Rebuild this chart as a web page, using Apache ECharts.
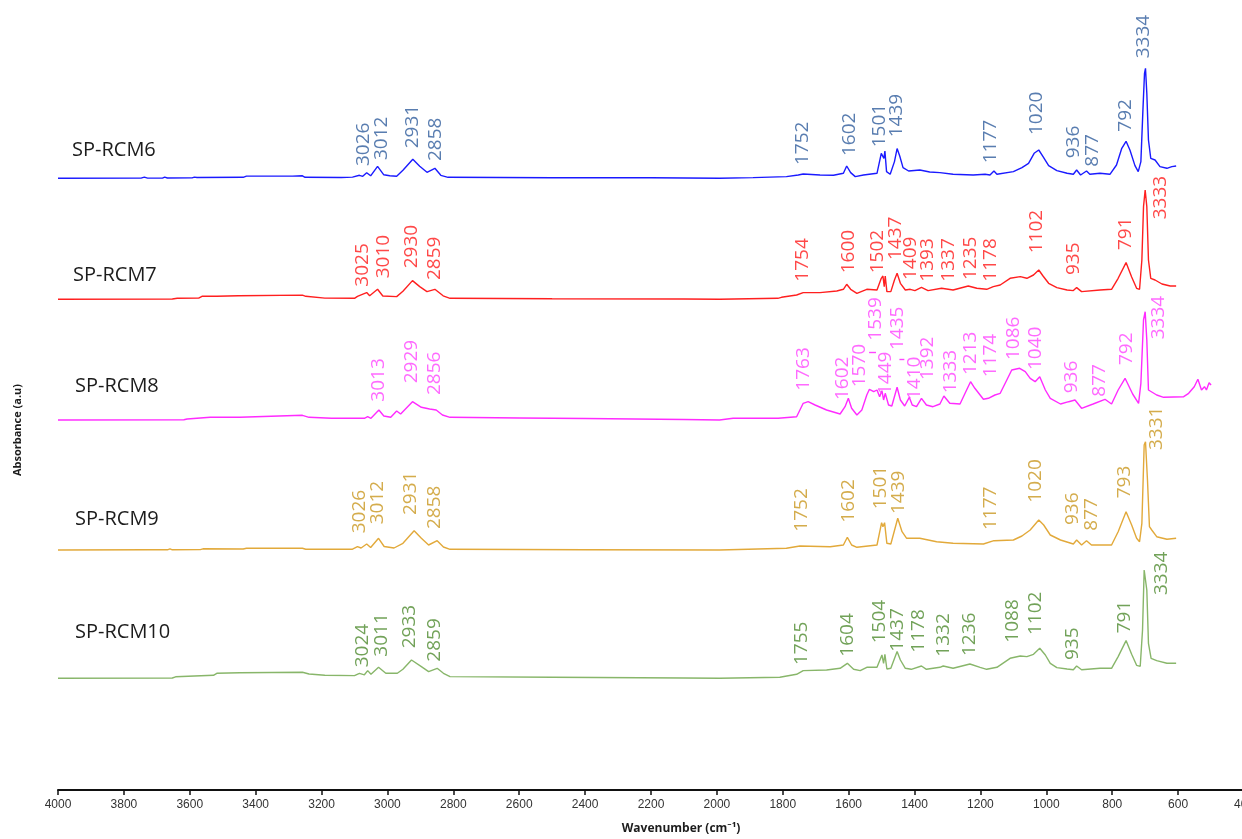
<!DOCTYPE html>
<html>
<head>
<meta charset="utf-8">
<title>FTIR spectra SP-RCM6 – SP-RCM10</title>
<script src="https://cdn.jsdelivr.net/npm/echarts@6/dist/echarts.min.js"></script>
<style>
  html, body { margin: 0; padding: 0; background: #ffffff; }
  #chart { width: 1242px; height: 839px; }
</style>
</head>
<body>
<div id="chart"></div>
<script>
// Sample names, top to bottom
const sampleNames = ['SP-RCM6', 'SP-RCM7', 'SP-RCM8', 'SP-RCM9', 'SP-RCM10'];

// Vertical stacking offset of each spectrum (a.u.)
const stackOffsets = [6.117, 4.907, 3.70, 2.40, 1.117];

// Spectra: [wavenumber (cm-1), absorbance above own baseline (a.u.)]
const spectrumRCM6 = [
  [4000,0],[3748,0.002],[3738,0.012],[3728,0.002],[3683,0.002],[3676,0.012],[3668,0.003],[3593,0.004],[3586,0.012],[3578,0.008],
  [3438,0.01],[3428,0.022],[3288,0.022],[3258,0.025],[3250,0.01],[3140,0.008],[3106,0.012],[3085,0.03],[3075,0.02],[3063,0.055],
  [3051,0.025],[3030,0.12],[3011,0.035],[2993,0.025],[2972,0.02],[2953,0.08],[2923,0.19],[2902,0.12],[2880,0.06],[2856,0.10],
  [2838,0.03],[2816,0.01],[2500,0.005],[2200,0.005],[1992,0],[1890,0.007],[1789,0.017],[1753,0.033],[1738,0.043],[1687,0.033],
  [1646,0.03],[1616,0.05],[1606,0.123],[1594,0.057],[1580,0.017],[1555,0.033],[1514,0.05],[1501,0.25],[1497,0.27],[1493,0.2],
  [1490,0.273],[1485,0.067],[1474,0.04],[1461,0.167],[1453,0.297],[1445,0.223],[1435,0.107],[1418,0.073],[1384,0.083],[1354,0.063],
  [1323,0.057],[1283,0.04],[1222,0.033],[1186,0.04],[1181,0.057],[1171,0.033],[1159,0.073],[1150,0.04],[1100,0.067],[1074,0.107],
  [1054,0.15],[1037,0.25],[1023,0.283],[1010,0.217],[993,0.127],[968,0.077],[937,0.05],[918,0.04],[908,0.083],[896,0.033],
  [878,0.073],[868,0.04],[837,0.05],[807,0.04],[787,0.133],[771,0.3],[758,0.37],[746,0.28],[731,0.127],[721,0.067],
  [713,0.167],[707,0.667],[702,1.05],[699,1.10],[695,0.85],[690,0.383],[683,0.2],[670,0.183],[655,0.117],[634,0.1],
  [619,0.117],[606,0.123]
];
const spectrumRCM7 = [
  [4000,0],[3653,0.003],[3638,0.01],[3573,0.012],[3563,0.03],[3518,0.03],[3453,0.035],[3448,0.042],[3258,0.042],[3248,0.03],
  [3190,0.012],[3100,0.01],[3091,0.03],[3080,0.045],[3063,0.067],[3054,0.035],[3030,0.10],[3014,0.033],[2972,0.027],[2953,0.08],
  [2924,0.187],[2902,0.127],[2880,0.077],[2856,0.10],[2831,0.035],[2810,0.01],[2500,0.005],[2100,0.003],[1992,0],[1815,0.01],
  [1804,0.02],[1758,0.043],[1738,0.067],[1687,0.067],[1636,0.083],[1616,0.1],[1606,0.15],[1594,0.1],[1575,0.06],[1545,0.1],
  [1514,0.093],[1501,0.21],[1496,0.233],[1492,0.127],[1489,0.233],[1484,0.077],[1472,0.077],[1461,0.193],[1453,0.26],[1443,0.16],
  [1428,0.093],[1413,0.1],[1399,0.087],[1379,0.12],[1359,0.087],[1318,0.11],[1283,0.093],[1237,0.133],[1211,0.11],[1181,0.1],
  [1161,0.127],[1140,0.143],[1110,0.21],[1079,0.227],[1059,0.21],[1039,0.243],[1023,0.293],[1010,0.233],[993,0.16],[968,0.117],
  [937,0.093],[918,0.087],[908,0.117],[893,0.077],[837,0.093],[802,0.1],[782,0.21],[758,0.367],[741,0.223],[726,0.11],
  [717,0.1],[710,0.393],[705,0.927],[700,1.093],[695,0.927],[690,0.393],[683,0.21],[670,0.193],[649,0.153],[624,0.133],
  [606,0.133]
];
const spectrumRCM8 = [
  [4000,0],[3618,0.003],[3608,0.01],[3538,0.027],[3448,0.027],[3443,0.047],[3258,0.047],[3238,0.027],[3170,0.017],[3070,0.017],
  [3060,0.033],[3050,0.017],[3026,0.10],[3011,0.04],[2990,0.027],[2972,0.09],[2960,0.06],[2924,0.183],[2897,0.127],[2872,0.11],
  [2852,0.10],[2833,0.05],[2810,0.027],[2600,0.02],[2400,0.015],[2100,0.005],[1992,0],[1951,0.017],[1814,0.017],[1758,0.033],
  [1738,0.167],[1723,0.183],[1702,0.15],[1667,0.1],[1626,0.06],[1611,0.133],[1601,0.217],[1591,0.117],[1575,0.05],[1560,0.1],
  [1545,0.25],[1537,0.307],[1524,0.283],[1514,0.3],[1506,0.233],[1499,0.293],[1494,0.2],[1489,0.267],[1479,0.15],[1469,0.14],
  [1453,0.327],[1443,0.2],[1430,0.14],[1416,0.227],[1407,0.15],[1394,0.133],[1379,0.217],[1364,0.15],[1344,0.133],[1323,0.16],
  [1311,0.24],[1293,0.167],[1262,0.16],[1242,0.3],[1230,0.383],[1217,0.317],[1191,0.207],[1176,0.217],[1156,0.25],[1140,0.267],
  [1120,0.4],[1105,0.5],[1081,0.517],[1064,0.483],[1049,0.417],[1034,0.383],[1020,0.433],[1003,0.3],[988,0.217],[957,0.16],
  [932,0.183],[913,0.2],[893,0.117],[858,0.16],[822,0.207],[802,0.16],[782,0.3],[761,0.417],[738,0.26],[720,0.167],
  [713,0.367],[705,1.0],[700,1.083],[695,0.8],[690,0.3],[685,0.283],[665,0.25],[644,0.227],[583,0.233],[568,0.267],
  [551,0.333],[540,0.407],[529,0.3],[520,0.333],[514,0.3],[506,0.373],[500,0.35]
];
const spectrumRCM9 = [
  [4000,0],[3728,0.002],[3723,0.012],[3713,0.002],[3668,0.002],[3660,0.012],[3653,0.002],[3568,0.004],[3560,0.012],[3438,0.01],
  [3428,0.017],[3258,0.017],[3248,0.008],[3106,0.008],[3091,0.033],[3080,0.02],[3063,0.06],[3051,0.025],[3027,0.117],[3010,0.035],
  [2980,0.02],[2953,0.067],[2919,0.193],[2897,0.117],[2875,0.05],[2849,0.093],[2830,0.03],[2810,0.007],[2400,0.003],[1992,0],
  [1789,0.017],[1748,0.04],[1656,0.033],[1616,0.05],[1604,0.127],[1591,0.05],[1575,0.027],[1514,0.05],[1500,0.273],[1496,0.233],
  [1491,0.273],[1484,0.067],[1472,0.06],[1451,0.317],[1438,0.183],[1424,0.117],[1384,0.117],[1333,0.083],[1283,0.067],[1191,0.06],
  [1159,0.093],[1100,0.1],[1074,0.14],[1049,0.2],[1023,0.3],[1008,0.25],[988,0.15],[957,0.1],[918,0.06],[908,0.1],
  [893,0.05],[878,0.093],[863,0.05],[802,0.05],[782,0.183],[758,0.383],[741,0.25],[726,0.117],[717,0.083],[710,0.267],
  [703,1.05],[699,1.083],[693,0.7],[687,0.233],[680,0.2],[665,0.133],[634,0.107],[606,0.117]
];
const spectrumRCM10 = [
  [4000,0],[3653,0.003],[3643,0.015],[3528,0.03],[3518,0.05],[3448,0.055],[3443,0.06],[3258,0.06],[3238,0.043],[3190,0.03],
  [3185,0.027],[3100,0.027],[3085,0.05],[3070,0.035],[3060,0.077],[3050,0.04],[3027,0.11],[3005,0.05],[2970,0.05],[2953,0.09],
  [2927,0.183],[2897,0.117],[2875,0.067],[2849,0.10],[2830,0.05],[2810,0.017],[2500,0.01],[2100,0.003],[1992,0],[1809,0.01],
  [1804,0.023],[1758,0.04],[1738,0.077],[1667,0.083],[1626,0.1],[1604,0.15],[1585,0.09],[1565,0.077],[1545,0.11],[1514,0.11],
  [1499,0.233],[1494,0.15],[1490,0.24],[1484,0.093],[1472,0.1],[1453,0.267],[1443,0.183],[1428,0.1],[1410,0.09],[1379,0.123],
  [1364,0.09],[1323,0.11],[1313,0.123],[1283,0.1],[1232,0.143],[1201,0.11],[1181,0.09],[1150,0.11],[1110,0.2],[1079,0.223],
  [1059,0.217],[1039,0.24],[1020,0.3],[1003,0.233],[988,0.15],[968,0.107],[937,0.093],[918,0.085],[908,0.123],[893,0.085],
  [837,0.1],[802,0.1],[782,0.217],[758,0.377],[741,0.24],[726,0.13],[715,0.12],[708,0.483],[703,1.083],[699,1.1],
  [695,0.883],[690,0.35],[682,0.2],[665,0.177],[634,0.15],[606,0.15]
];

// Peak annotations: [wavenumber where the text sits, height of text start above baseline, text]
const peaksRCM6 = [
  [3072,0.123,'3026'],[3018,0.183,'3012'],[2925,0.30,'2931'],[2853,0.173,'2858'],[1741,0.133,'1752'],[1598,0.223,'1602'],
  [1507,0.31,'1501'],[1456,0.41,'1439'],[1169,0.15,'1177'],[1031,0.433,'1020'],[916,0.20,'936'],[860,0.116,'877'],
  [758,0.466,'792'],[705,1.20,'3334']
];
const peaksRCM7 = [
  [3074,0.126,'3025'],[3013,0.21,'3010'],[2927,0.31,'2930'],[2856,0.193,'2859'],[1741,0.176,'1754'],[1599,0.26,'1600'],
  [1512,0.26,'1502'],[1458,0.393,'1437'],[1411,0.193,'1409'],[1359,0.176,'1393'],[1298,0.176,'1337'],[1230,0.193,'1235'],
  [1169,0.176,'1178'],[1031,0.46,'1102'],[918,0.243,'935'],[758,0.493,'791'],[652,0.80,'3333']
];
const peaksRCM8 = [
  [3026,0.183,'3013'],[2927,0.367,'2929'],[2856,0.25,'2856'],[1736,0.293,'1763'],[1619,0.20,'1602'],[1567,0.327,'1570'],
  [1517,0.793,'1539'],[1487,0.25,'1449'],[1451,0.70,'1435'],[1401,0.20,'1410'],[1359,0.40,'1392'],[1291,0.267,'1333'],
  [1230,0.45,'1213'],[1169,0.427,'1174'],[1098,0.60,'1086'],[1034,0.50,'1040'],[923,0.267,'936'],[837,0.233,'877'],
  [756,0.55,'792'],[660,0.807,'3334']
];
const peaksRCM9 = [
  [3084,0.167,'3026'],[3029,0.257,'3012'],[2930,0.35,'2931'],[2856,0.21,'2858'],[1743,0.183,'1752'],[1601,0.273,'1602'],
  [1504,0.407,'1501'],[1448,0.36,'1439'],[1169,0.20,'1177'],[1034,0.473,'1020'],[920,0.25,'936'],[863,0.193,'877'],
  [761,0.517,'793'],[664,1.0,'3331']
];
const peaksRCM10 = [
  [3076,0.11,'3024'],[3018,0.216,'3011'],[2932,0.30,'2933'],[2856,0.166,'2859'],[1743,0.133,'1755'],[1603,0.216,'1604'],
  [1506,0.35,'1504'],[1453,0.266,'1437'],[1389,0.256,'1178'],[1311,0.216,'1332'],[1232,0.223,'1236'],[1102,0.356,'1088'],
  [1034,0.433,'1102'],[920,0.183,'935'],[761,0.45,'791'],[649,0.833,'3334']
];

// Short leader strokes under two SP-RCM8 annotations: [from wavenumber, to wavenumber, height]
const leadersRCM8 = [[1538, 1517, 0.673], [1446, 1431, 0.61]];

// Wavenumber axis ticks (cm-1)
const xTickMin = 400;
const xTickMax = 4000;
const xTickStep = 200;

const spectra = [spectrumRCM6, spectrumRCM7, spectrumRCM8, spectrumRCM9, spectrumRCM10];
const peakSets = [peaksRCM6, peaksRCM7, peaksRCM8, peaksRCM9, peaksRCM10];
const lineColors = ['#1a1aff', '#ff1f1f', '#ff2bff', '#e2a93a', '#88b66a'];
const textColors = ['#2f5c9c', '#ff1a1a', '#ff45ff', '#c9971f', '#4f8b30'];

const uiFont = '"Open Sans", "Noto Sans", "DejaVu Sans", sans-serif';
const chart = echarts.init(document.getElementById('chart'), null, { renderer: 'canvas' });

const series = [];
spectra.forEach(function (spec, i) {
  const off = stackOffsets[i];
  series.push({
    type: 'line',
    name: sampleNames[i],
    data: spec.map(function (p) { return [p[0], p[1] + off]; }),
    showSymbol: false,
    symbol: 'none',
    clip: false,
    lineStyle: { color: lineColors[i], width: 1.4 },
    silent: true,
    z: 2
  });
  const peakSeries = {
    type: 'scatter',
    name: sampleNames[i] + ' peaks',
    data: peakSets[i].map(function (p) { return [p[0], p[1] + off, p[2]]; }),
    symbolSize: 1,
    itemStyle: { color: 'rgba(0,0,0,0)' },
    clip: false,
    silent: true,
    z: 3,
    label: {
      show: true,
      position: 'inside',
      rotate: 90,
      align: 'left',
      verticalAlign: 'middle',
      formatter: function (p) { return p.data[2]; },
      color: textColors[i],
      fontFamily: uiFont,
      fontSize: 19
    }
  };
  if (i === 2) {
    peakSeries.markLine = {
      silent: true,
      symbol: 'none',
      label: { show: false },
      lineStyle: { color: textColors[i], width: 1.4, type: 'solid' },
      data: leadersRCM8.map(function (l) {
        return [{ coord: [l[0], l[2] + off] }, { coord: [l[1], l[2] + off] }];
      })
    };
  }
  series.push(peakSeries);
});

// Sample name captions, placed left of each trace
const captionY = [150, 275, 386, 519, 632];
const captionX = [72, 73, 75, 75, 75];
const graphics = sampleNames.map(function (name, i) {
  return {
    type: 'text',
    x: captionX[i],
    y: captionY[i],
    silent: true,
    style: { text: name, font: '20px ' + uiFont, fill: '#1c1c1c', verticalAlign: 'middle', align: 'left' }
  };
});
graphics.push({
  type: 'text',
  x: 18,
  y: 430,
  rotation: Math.PI / 2,
  silent: true,
  style: { text: 'Absorbance (a.u)', font: 'bold 11px ' + uiFont, fill: '#1c1c1c', align: 'center', verticalAlign: 'middle' }
});

chart.setOption({
  animation: false,
  backgroundColor: '#ffffff',
  grid: { left: 58, top: 40, width: 1186, height: 750, containLabel: false, outerBoundsMode: 'none' },
  xAxis: {
    type: 'value',
    inverse: true,
    min: xTickMin,
    max: xTickMax,
    interval: xTickStep,
    axisLine: { show: true, onZero: false, lineStyle: { color: '#111111', width: 2 } },
    axisTick: { show: true, length: 5, lineStyle: { color: '#111111', width: 1.5 } },
    axisLabel: {
      show: true, margin: 9, fontSize: 12, color: '#333333',
      fontFamily: '"Liberation Sans", Arial, sans-serif',
      showMinLabel: true, showMaxLabel: true,
      formatter: function (v) { return String(v); }
    },
    splitLine: { show: false },
    name: 'Wavenumber (cm\u207B\u00B9)',
    nameLocation: 'middle',
    nameGap: 33,
    nameTextStyle: { fontFamily: uiFont, fontWeight: 'bold', fontSize: 12, color: '#1c1c1c', padding: [0, 0, 0, 60] }
  },
  yAxis: {
    type: 'value',
    min: 0,
    max: 7.5,
    axisLine: { show: false },
    axisTick: { show: false },
    axisLabel: { show: false },
    splitLine: { show: false }
  },
  graphic: graphics,
  series: series
});
</script>
</body>
</html>
